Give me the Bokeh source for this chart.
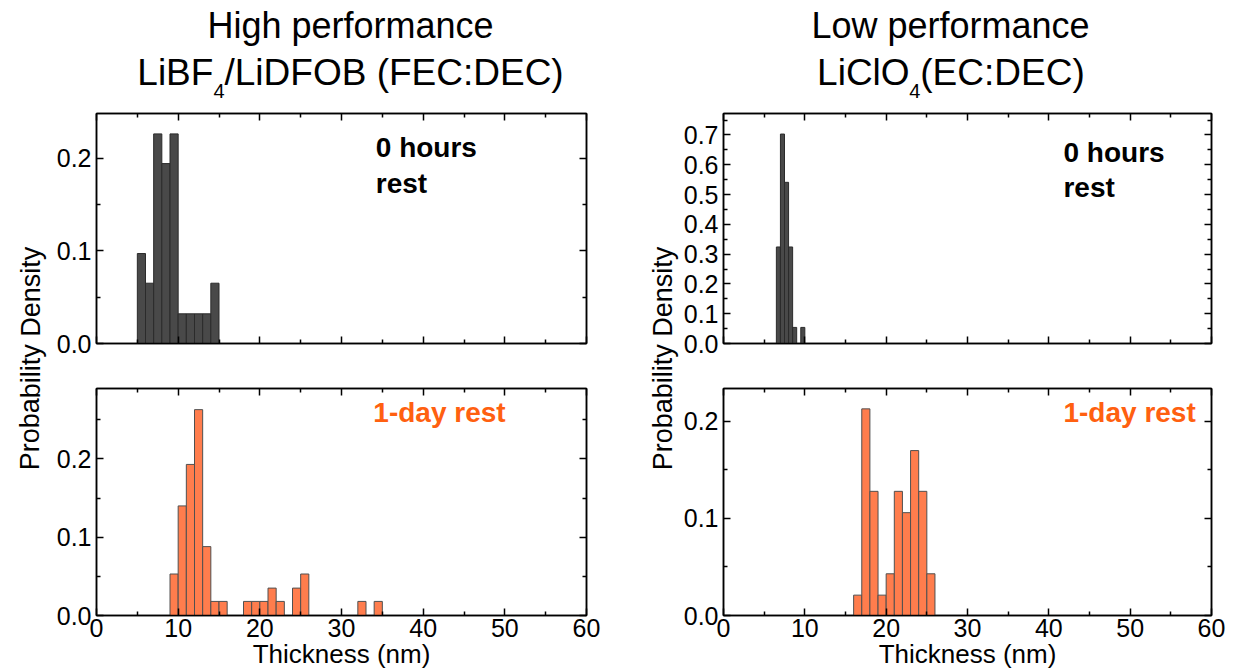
from bokeh.plotting import figure
from bokeh.models import (Range1d, LinearAxis, FixedTicker, PrintfTickFormatter,
                          Label, ColumnDataSource, CustomJSTickFormatter)
from bokeh.layouts import row, column
from bokeh.embed import file_html
from bokeh.resources import INLINE

# ---------------- data ----------------
x_ticks = [0, 10, 20, 30, 40, 50, 60]
x_minor = [5, 15, 25, 35, 45, 55]

# High performance, 0 hours rest (bin width 1 nm)
hp0_left = [5, 6, 7, 8, 9, 10, 11, 12, 13, 14]
hp0_dens = [0.097, 0.065, 0.226, 0.194, 0.226, 0.032, 0.032, 0.032, 0.032, 0.065]
hp0_width = 1.0

# High performance, 1-day rest (bin width 1 nm)
hp1_left = [9, 10, 11, 12, 13, 14, 15, 18, 19, 20, 21, 22, 24, 25, 32, 34]
hp1_dens = [0.053, 0.140, 0.193, 0.263, 0.088, 0.018, 0.018, 0.018, 0.018, 0.018,
            0.035, 0.018, 0.035, 0.053, 0.018, 0.018]
hp1_width = 1.0

# Low performance, 0 hours rest (bin width 0.5 nm)
lp0_left = [6.5, 7.0, 7.5, 8.0, 8.5, 9.5]
lp0_dens = [0.324, 0.703, 0.541, 0.324, 0.054, 0.054]
lp0_width = 0.5

# Low performance, 1-day rest (bin width 1 nm)
lp1_left = [16, 17, 18, 19, 20, 21, 22, 23, 24, 25]
lp1_dens = [0.021, 0.213, 0.128, 0.021, 0.043, 0.128, 0.106, 0.170, 0.128, 0.043]
lp1_width = 1.0

y_ticks_small = [0.0, 0.1, 0.2]
y_minor_small = [0.05, 0.15, 0.25]
y_ticks_big = [0.0, 0.1, 0.2, 0.3, 0.4, 0.5, 0.6, 0.7]
y_minor_big = [0.05, 0.15, 0.25, 0.35, 0.45, 0.55, 0.65, 0.75]

FONT = "Liberation Sans"
DARK_FILL = "#494949"
DARK_LINE = "#2b2b2b"
ORANGE_FILL = "#FF7D4D"
ORANGE_LINE = "#505050"
ORANGE_TEXT = "#FF6010"

FRAME_W = 490
FRAME_H = 230
TICK_FS = "25px"
NOTE_FS = "28px"


def style_axis(ax, show_labels):
    ax.axis_line_color = "black"
    ax.axis_line_width = 1.5
    ax.major_tick_line_color = "black"
    ax.minor_tick_line_color = "black"
    ax.major_tick_line_width = 1.5
    ax.minor_tick_line_width = 1.5
    ax.major_tick_in = 7
    ax.major_tick_out = 0
    ax.minor_tick_in = 4
    ax.minor_tick_out = 0
    ax.major_label_text_font = FONT
    if show_labels:
        ax.major_label_text_color = "black"
        ax.major_label_text_font_size = TICK_FS
    else:
        ax.formatter = CustomJSTickFormatter(code="return ''")
        ax.major_label_text_color = None
        ax.major_label_text_font_size = "0px"
        ax.major_label_standoff = 0


def panel(ymax, yt, ymt, mbl, mbr, mbt, mbb, show_x_labels):
    p = figure(width=mbl + FRAME_W + mbr, height=mbt + FRAME_H + mbb,
               x_range=Range1d(0, 60), y_range=Range1d(0, ymax),
               output_backend="svg", toolbar_location=None,
               min_border_left=mbl, min_border_right=mbr,
               min_border_top=mbt, min_border_bottom=mbb)
    p.grid.visible = False
    p.outline_line_color = "black"
    p.outline_line_width = 1.5
    p.background_fill_color = "white"
    p.border_fill_color = "white"

    p.xaxis.ticker = FixedTicker(ticks=x_ticks, minor_ticks=x_minor)
    p.yaxis.ticker = FixedTicker(ticks=yt, minor_ticks=ymt)
    p.yaxis.formatter = PrintfTickFormatter(format="%.1f")
    style_axis(p.xaxis[0], show_x_labels)
    style_axis(p.yaxis[0], True)
    p.yaxis.major_label_standoff = 5
    if show_x_labels:
        p.xaxis.major_label_standoff = 3
        p.xaxis.axis_label = "Thickness (nm)"
        p.xaxis.axis_label_text_font = FONT
        p.xaxis.axis_label_text_font_size = "26px"
        p.xaxis.axis_label_text_font_style = "normal"
        p.xaxis.axis_label_text_color = "black"
        p.xaxis.axis_label_standoff = -1

    top = LinearAxis(ticker=FixedTicker(ticks=x_ticks, minor_ticks=x_minor))
    style_axis(top, False)
    p.add_layout(top, "above")
    right = LinearAxis(ticker=FixedTicker(ticks=yt, minor_ticks=ymt))
    style_axis(right, False)
    p.add_layout(right, "right")
    return p


def hist(p, left, dens, width, fill, line):
    src = ColumnDataSource(dict(left=left, right=[l + width for l in left], top=dens))
    p.quad(left="left", right="right", bottom=0, top="top", source=src,
           fill_color=fill, line_color=line, line_width=1)


def text(p, x, y, s, size, color="black", bold=False, align="left", angle=0):
    # y is the vertical middle of the text
    p.add_layout(Label(x=x, y=y, text=s, text_font=FONT, text_font_size=size,
                       text_color=color, text_font_style="bold" if bold else "normal",
                       text_align=align, text_baseline="middle", angle=angle))


# ----------- widths of Arial/Liberation glyphs (em) for title placement ----------
EM = {"L": .556, "i": .222, "B": .667, "F": .611, "/": .278, "D": .722, "O": .778,
      " ": .278, "(": .333, ")": .333, "E": .667, "C": .722, ":": .278, "l": .222,
      "4": .556}


def wid(s, size):
    return sum(EM[c] for c in s) * size


TITLE_H = 105
TOP_H = 8 + FRAME_H + 22
BOT_H = 23 + FRAME_H + 53
TOTAL_H = TITLE_H + TOP_H + BOT_H


def bare_fig(width, height, xr):
    f = figure(width=width, height=height, x_range=Range1d(0, xr),
               y_range=Range1d(0, height), output_backend="svg", toolbar_location=None,
               x_axis_type=None, y_axis_type=None, min_border=0)
    f.title = None
    f.grid.visible = False
    f.outline_line_color = None
    return f


def title_fig(width, cx, line1, parts):
    # frame of this figure lines up with the panel frames below it (FRAME_W wide)
    t = bare_fig(width, TITLE_H, FRAME_W)
    s1, big, small = 36, 37, 20
    text(t, cx, TITLE_H - 24.5, line1, f"{s1}px", align="center")
    total = sum(wid(s, small if sub else big) for s, sub in parts)
    x = cx - total / 2
    for s, sub in parts:
        sz = small if sub else big
        text(t, x, TITLE_H - (90.1 if sub else 72.2), s, f"{sz}px")
        x += wid(s, sz)
    return t


def ylabel_fig(width, x):
    f = bare_fig(width, TOTAL_H, width)
    text(f, x, TOTAL_H - 358, "Probability Density", "27px", align="center",
         angle=1.5707963)
    return f


# ---------------- left side ----------------
LW = 48 + FRAME_W + 34
hp_top = panel(0.248, y_ticks_small, y_minor_small, 48, 34, 8, 22, False)
hist(hp_top, hp0_left, hp0_dens, hp0_width, DARK_FILL, DARK_LINE)
text(hp_top, 34.2, 0.211, "0 hours", NOTE_FS, bold=True)
text(hp_top, 34.2, 0.173, "rest", NOTE_FS, bold=True)

hp_bot = panel(0.290, y_ticks_small, y_minor_small, 48, 34, 23, 53, True)
hist(hp_bot, hp1_left, hp1_dens, hp1_width, ORANGE_FILL, ORANGE_LINE)
text(hp_bot, 33.9, 0.259, "1-day rest", NOTE_FS, color=ORANGE_TEXT, bold=True)

hp_title = title_fig(LW, 254, "High performance",
                     [("LiBF", False), ("4", True), ("/LiDFOB (FEC:DEC)", False)])

# ---------------- right side ----------------
RW = 41 + FRAME_W + 18
lp_top = panel(0.772, y_ticks_big, y_minor_big, 41, 18, 8, 22, False)
hist(lp_top, lp0_left, lp0_dens, lp0_width, DARK_FILL, DARK_LINE)
text(lp_top, 41.8, 0.642, "0 hours", NOTE_FS, bold=True)
text(lp_top, 41.8, 0.524, "rest", NOTE_FS, bold=True)

lp_bot = panel(0.234, y_ticks_small, y_minor_small, 41, 18, 23, 53, True)
hist(lp_bot, lp1_left, lp1_dens, lp1_width, ORANGE_FILL, ORANGE_LINE)
text(lp_bot, 41.8, 0.209, "1-day rest", NOTE_FS, color=ORANGE_TEXT, bold=True)

lp_title = title_fig(RW, 228, "Low performance",
                     [("LiClO", False), ("4", True), ("(EC:DEC)", False)])

yl_left = ylabel_fig(48, 30)
yl_right = ylabel_fig(60, 42)

layout = row(yl_left, column(hp_title, hp_top, hp_bot),
             yl_right, column(lp_title, lp_top, lp_bot))

open("out.html", "w").write(file_html(layout, INLINE))
